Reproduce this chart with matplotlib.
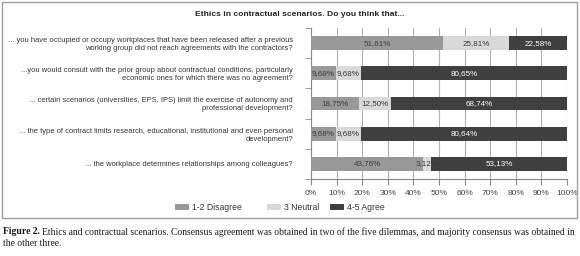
import matplotlib.pyplot as plt
import numpy as np
from matplotlib.patches import Rectangle

questions = [
    "... you have occupied or occupy workplaces that have been released after a previous\nworking group did not reach agreements with the contractors?",
    "...you would consult with the prior group about contractual conditions, particularly\neconomic ones for which there was no agreement?",
    "... certain scenarios (universities, EPS, IPS) limit the exercise of autonomy and\nprofessional development?",
    "... the type of contract limits research, educational, institutional and even personal\ndevelopment?",
    "... the workplace determines relationships among colleagues?",
]
disagree = [51.61, 9.68, 18.75, 9.68, 43.76]
neutral = [25.81, 9.68, 12.50, 9.68, 3.12]
agree = [22.58, 80.65, 68.74, 80.64, 53.13]
series_names = ["1-2 Disagree", "3 Neutral", "4-5 Agree"]
colors = ["#999999", "#d9d9d9", "#404040"]
text_colors = ["#3a3a3a", "#3a3a3a", "white"]

plt.rcParams['font.family'] = ['Liberation Sans', 'DejaVu Sans']

W, H = 580, 256
fig = plt.figure(figsize=(W / 100, H / 100), dpi=100)

# outer frame of the chart
fig.patches.append(Rectangle((2 / W, 1 - 218 / H), 575 / W, 216 / H, transform=fig.transFigure,
                             fill=False, edgecolor="#a0a0a0", linewidth=1))

ax = fig.add_axes([311 / W, 1 - 179 / H, 256 / W, 151 / H])

y = np.arange(len(questions))
left = np.zeros(len(questions))
for vals, name, col, tcol in zip([disagree, neutral, agree], series_names, colors, text_colors):
    ax.barh(y, vals, left=left, height=0.46, color=col, label=name, zorder=3)
    for yi, v, l in zip(y, vals, left):
        ax.text(l + v / 2, yi, f"{v:.2f}%".replace(".", ","), ha="center", va="center",
                fontsize=5.8, color=tcol, zorder=4)
    left = left + np.array(vals)

ax.set_xlim(0, 100)
ax.set_ylim(len(questions) - 0.5, -0.5)
ax.set_xticks(np.arange(0, 101, 10))
ax.set_xticklabels([f"{v}%" for v in range(0, 101, 10)], fontsize=6, color="#444444")
ax.set_yticks(y)
ax.set_yticklabels(questions, fontsize=5.4, color="#333333")
ax.set_yticks(np.arange(-0.5, len(questions), 1), minor=True)
ax.tick_params(axis="y", which="major", length=0, pad=13)
ax.tick_params(axis="y", which="minor", length=4, color="#888888")
ax.tick_params(axis="x", length=4, color="#888888", pad=4)
ax.grid(axis="x", color="#b0b0b0", linewidth=0.8, zorder=0)
for s in ["top", "right"]:
    ax.spines[s].set_visible(False)
for s in ["left", "bottom"]:
    ax.spines[s].set_color("#888888")

fig.text(300 / W, 1 - 14 / H, "Ethics in contractual scenarios. Do you think that...",
         ha="center", va="center", fontsize=6.1, fontweight="bold", color="#222222")

# legend, placed by hand like the original
leg_x = [175, 267, 330]
for lx, name, col in zip(leg_x, series_names, colors):
    fig.patches.append(Rectangle((lx / W, 1 - 210 / H), 14 / W, 6 / H, transform=fig.transFigure,
                                 facecolor=col, edgecolor="none"))
    fig.text((lx + 17) / W, 1 - 207 / H, name, ha="left", va="center", fontsize=6.2, color="#333333")

# caption
cap_fs = 6.95
cap1 = fig.text(3 / W, 1 - 232 / H, "Figure 2.", ha="left", va="center", fontsize=cap_fs,
                family="Liberation Serif", fontweight="bold", color="#1a1a1a")
fig.canvas.draw()
bb = cap1.get_window_extent()
fig.text((bb.x1 + 2.5) / W, 1 - 232 / H,
         "Ethics and contractual scenarios. Consensus agreement was obtained in two of the five dilemmas, and majority consensus was obtained in",
         ha="left", va="center", fontsize=cap_fs, family="Liberation Serif", color="#1a1a1a")
fig.text(3 / W, 1 - 244 / H, "the other three.",
         ha="left", va="center", fontsize=cap_fs, family="Liberation Serif", color="#1a1a1a")

fig.savefig("out.png", dpi=100)
